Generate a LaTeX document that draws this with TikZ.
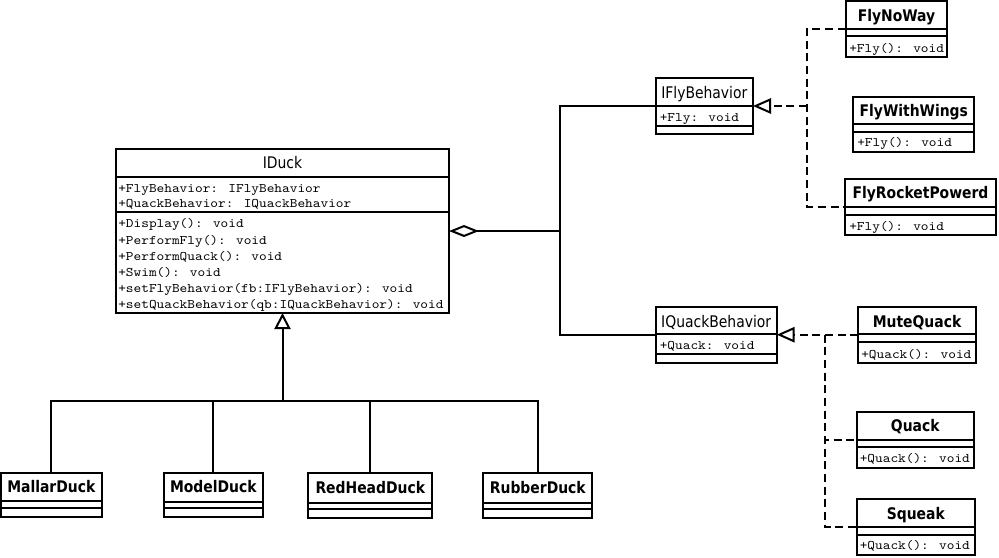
\documentclass[tikz,border=0pt]{standalone}
\usepackage{fontspec}
\newfontfamily\tsans[FakeStretch=0.87]{DejaVu Sans}
\newfontfamily\tmono{lmmono10-regular}[Extension=.otf, FakeStretch=1.12]
\usetikzlibrary{arrows.meta,fit}
\newcommand\umlbox[7]{%
  \node[box, fit={(#2,#3) (#4,#5)}] (#1) {};
  \draw[boxline] (#2,#6) -- (#4,#6) (#2,#7) -- (#4,#7);
}
\begin{document}
\begin{tikzpicture}[x=0.75pt,y=-0.75pt,
  box/.style={draw, line width=1.5pt, inner sep=0pt, outer sep=0pt, rectangle},
  boxline/.style={line width=1.5pt},
  title/.style={font=\tsans\fontsize{12}{14}\selectfont, inner sep=0pt, text height=8.8pt, text depth=0pt},
  ctitle/.style={title, font=\tsans\bfseries\fontsize{12}{14}\selectfont},
  member/.style={font=\tmono\fontsize{9.8}{11}\selectfont, anchor=west, inner sep=0pt, text height=6pt, text depth=0pt},
  link/.style={line width=1.5pt},
  real/.style={link, dash pattern=on 6pt off 3.5pt},
  gen/.style={-{Triangle[open,length=12pt,width=12pt]}},
  rgen/.style={-{Triangle[open,length=13.5pt,width=11.5pt]}},
  agg/.style={{Diamond[open,length=22.5pt,width=9pt]}-}
]
\fill[white] (0,0) rectangle (999,557);
\useasboundingbox (0,0) rectangle (999,557);

% boxes
\umlbox{iduck}{116}{149}{449}{313}{176.5}{212}
\umlbox{ifly}{655.7}{78}{753}{134}{106}{126}
\umlbox{flynoway}{845.7}{1}{947.3}{56.7}{29}{35.7}
\umlbox{flywings}{853.3}{96.7}{974.3}{152}{124.3}{131.7}
\umlbox{flyrocket}{845}{179}{996}{235}{207}{215}
\umlbox{iquack}{655.7}{306.7}{776.7}{362.7}{334.3}{354.3}
\umlbox{mutequack}{858.3}{306.7}{975.7}{362.7}{334.3}{341.7}
\umlbox{quack}{856.7}{411.7}{974}{468.3}{440}{447.3}
\umlbox{squeak}{857}{499}{974.7}{555.3}{527.3}{535}
\umlbox{mallar}{1}{472.7}{101.7}{517}{500.7}{508.3}
\umlbox{model}{164}{472.7}{262.7}{517}{501.7}{508.3}
\umlbox{redhead}{308.3}{473.3}{432.3}{517.7}{503.3}{509.3}
\umlbox{rubber}{483.3}{472.7}{592.3}{517.7}{503.3}{509.3}

% titles
\node[title] (tiduck) at (282.5,163) {IDuck};
\node[title] (tifly) at (704.3,92.3) {IFlyBehavior};
\node[title] (tiquack) at (716.2,321.7) {IQuackBehavior};
\node[ctitle] (tflynoway) at (896.5,15.5) {FlyNoWay};
\node[ctitle] (tflywings) at (913.8,110.5) {FlyWithWings};
\node[ctitle] (tflyrocket) at (920.5,192.3) {FlyRocketPowerd};
\node[ctitle] (tmutequack) at (917,321.3) {MuteQuack};
\node[ctitle] (tquack) at (915.3,426) {Quack};
\node[ctitle] (tsqueak) at (915.8,513.3) {Squeak};
\node[ctitle] (tmallar) at (51.3,486.7) {MallarDuck};
\node[ctitle] (tmodel) at (213.3,486.7) {ModelDuck};
\node[ctitle] (tredhead) at (370.3,487.8) {RedHeadDuck};
\node[ctitle] (trubber) at (537.8,487.8) {RubberDuck};

% members
\node[member] (m1) at (118,188) {+FlyBehavior: IFlyBehavior};
\node[member] (m2) at (118,203.2) {+QuackBehavior: IQuackBehavior};
\node[member] (m3) at (118,223.7) {+Display(): void};
\node[member] (m4) at (118,240.2) {+PerformFly(): void};
\node[member] (m5) at (118,256) {+PerformQuack(): void};
\node[member] (m6) at (118,272) {+Swim(): void};
\node[member] (m7) at (118,288) {+setFlyBehavior(fb:IFlyBehavior): void};
\node[member] (m8) at (118,304) {+setQuackBehavior(qb:IQuackBehavior): void};
\node[member] (m9) at (659.5,117.3) {+Fly: void};
\node[member] (m10) at (659.5,345) {+Quack: void};
\node[member] (m11) at (849,48.3) {+Fly(): void};
\node[member] (m12) at (857,142.8) {+Fly(): void};
\node[member] (m13) at (849,226.2) {+Fly(): void};
\node[member] (m14) at (861,354.2) {+Quack(): void};
\node[member] (m15) at (859.5,458) {+Quack(): void};
\node[member] (m16) at (859.5,545.3) {+Quack(): void};

% generalization of ducks
\coordinate (bar) at (282.5,401);
\draw[link] (mallar.north) |- (bar);
\draw[link] (model.north) |- (bar);
\draw[link] (redhead.north) |- (bar);
\draw[link] (rubber.north) |- (bar);
\draw[link, gen] (bar) -- (iduck.south);

% aggregation
\coordinate (aj) at (560,231);
\draw[link, agg] (iduck.east) -- (aj) |- (ifly.west);
\draw[link] (aj) |- (iquack.west);

% fly realizations
\coordinate (fj) at (807,106);
\draw[real] (flynoway.west) -| (fj) |- (flyrocket.west);
\draw[real, rgen] (fj) -- (ifly.east);

% quack realizations
\coordinate (qj) at (825,334.7);
\draw[real, rgen] (mutequack.west) -- (iquack.east);
\draw[real] (qj) |- (quack.west);
\draw[real] (qj) |- (squeak.west);
\end{tikzpicture}
\end{document}
